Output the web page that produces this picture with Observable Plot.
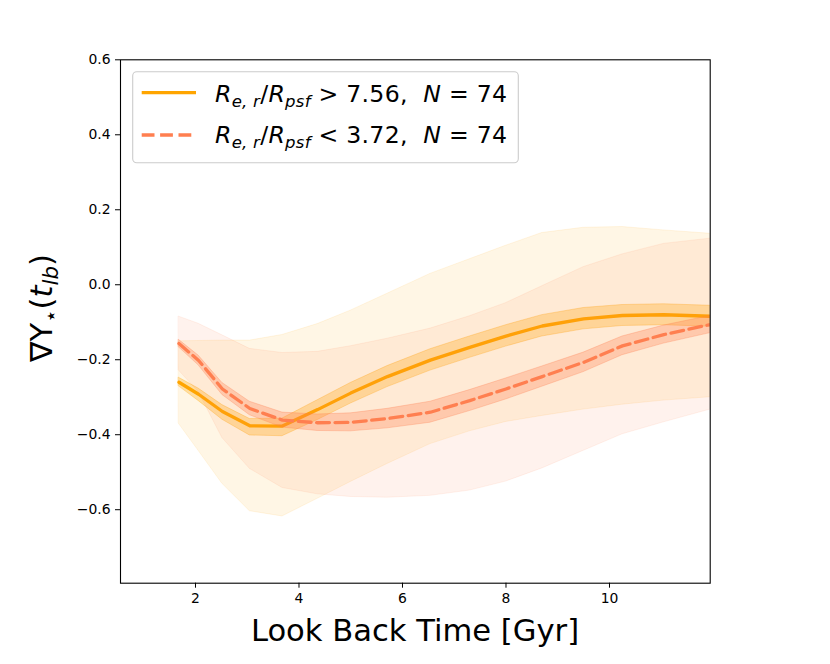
<!DOCTYPE html>
<html>
<head>
<meta charset="utf-8">
<script src="https://cdn.jsdelivr.net/npm/d3@7"></script>
<script src="https://cdn.jsdelivr.net/npm/@observablehq/plot@0.6"></script>
<style>
  html, body { margin: 0; padding: 0; background: white; }
  #chart { width: 830px; height: 664px; }
</style>
</head>
<body>
<div id="chart"></div>
<script>
// Look back time grid [Gyr]
const lookback = [1.68, 2.06, 2.52, 3.05, 3.68, 4.36, 5.0, 5.71, 6.54, 7.3, 8.0, 8.7, 9.5, 10.25, 11.05, 11.95];

// Large galaxies: R_e,r/R_psf > 7.56 (orange, solid)
const largeMed     = [-0.260, -0.292, -0.338, -0.376, -0.377, -0.333, -0.289, -0.245, -0.201, -0.167, -0.137, -0.110, -0.091, -0.082, -0.080, -0.084];
const largeInnerHi = [-0.248, -0.277, -0.321, -0.358, -0.357, -0.308, -0.262, -0.217, -0.172, -0.138, -0.108, -0.081, -0.062, -0.054, -0.052, -0.056];
const largeInnerLo = [-0.271, -0.310, -0.360, -0.402, -0.404, -0.361, -0.317, -0.273, -0.229, -0.195, -0.165, -0.138, -0.119, -0.110, -0.108, -0.112];
const largeOuterHi = [-0.151, -0.150, -0.149, -0.149, -0.134, -0.105, -0.069, -0.024, 0.029, 0.068, 0.104, 0.138, 0.152, 0.154, 0.145, 0.136];
const largeOuterLo = [-0.371, -0.443, -0.531, -0.604, -0.618, -0.571, -0.526, -0.478, -0.425, -0.391, -0.366, -0.350, -0.333, -0.320, -0.309, -0.300];

// Small galaxies: R_e,r/R_psf < 3.72 (coral, dashed)
const smallMed     = [-0.157, -0.202, -0.278, -0.330, -0.361, -0.368, -0.367, -0.357, -0.340, -0.309, -0.278, -0.245, -0.207, -0.163, -0.133, -0.106];
const smallInnerHi = [-0.147, -0.189, -0.262, -0.312, -0.341, -0.346, -0.343, -0.331, -0.312, -0.281, -0.250, -0.218, -0.181, -0.138, -0.109, -0.083];
const smallInnerLo = [-0.167, -0.215, -0.294, -0.348, -0.381, -0.390, -0.391, -0.383, -0.368, -0.337, -0.306, -0.272, -0.233, -0.188, -0.157, -0.129];
const smallOuterHi = [-0.085, -0.104, -0.135, -0.171, -0.182, -0.179, -0.164, -0.144, -0.117, -0.084, -0.049, -0.004, 0.047, 0.081, 0.109, 0.123];
const smallOuterLo = [-0.229, -0.286, -0.409, -0.491, -0.542, -0.559, -0.566, -0.568, -0.563, -0.549, -0.525, -0.490, -0.443, -0.399, -0.367, -0.333];

const xTicks = [2, 4, 6, 8, 10];
const yTicks = [-0.6, -0.4, -0.2, 0.0, 0.2, 0.4, 0.6];

const legendLabels = [
  {sym: ">", val: "7.56", n: "74"},
  {sym: "<", val: "3.72", n: "74"}
];

const large = lookback.map((t, i) => ({t, med: largeMed[i], ilo: largeInnerLo[i], ihi: largeInnerHi[i], olo: largeOuterLo[i], ohi: largeOuterHi[i]}));
const small = lookback.map((t, i) => ({t, med: smallMed[i], ilo: smallInnerLo[i], ihi: smallInnerHi[i], olo: smallOuterLo[i], ohi: smallOuterHi[i]}));

const ORANGE = "#FFA500";
const CORAL = "#FF7F50";

function band(data, lo, hi, color, op) {
  return Plot.areaY(data, {x: "t", y1: lo, y2: hi, fill: color, fillOpacity: op, stroke: color, strokeOpacity: op, strokeWidth: 1, clip: true});
}

const fmt = d => (d < 0 ? "\u2212" : "") + Math.abs(d).toFixed(1);

const plot = Plot.plot({
  width: 830,
  height: 664,
  marginLeft: 120,
  marginRight: 120.3,
  marginTop: 59.3,
  marginBottom: 81.3,
  style: {fontFamily: "DejaVu Sans", fontSize: "13.9px", color: "black", background: "white"},
  x: {domain: [0.551, 11.946]},
  y: {domain: [-0.796, 0.6]},
  marks: [
    band(large, "olo", "ohi", ORANGE, 0.1),
    band(large, "ilo", "ihi", ORANGE, 0.3),
    Plot.line(large, {x: "t", y: "med", stroke: ORANGE, strokeWidth: 3.3, clip: true}),
    band(small, "olo", "ohi", CORAL, 0.1),
    band(small, "ilo", "ihi", CORAL, 0.3),
    Plot.line(small, {x: "t", y: "med", stroke: CORAL, strokeWidth: 3.3, strokeDasharray: "12.8,5.6", clip: true}),
    Plot.frame({stroke: "black", strokeWidth: 1.1}),
    Plot.axisX({ticks: xTicks, tickSize: 5, tickPadding: 5, label: null, tickFormat: d => String(d)}),
    Plot.axisY({ticks: yTicks, tickSize: 5, tickPadding: 5, label: null, tickFormat: fmt})
  ]
});

document.getElementById("chart").appendChild(plot);

const svg = d3.select(plot);

// X label
svg.append("text")
  .attr("x", 415).attr("y", 641)
  .attr("text-anchor", "middle")
  .attr("font-family", "DejaVu Sans")
  .attr("font-size", 30.6)
  .attr("fill", "black")
  .text("Look Back Time [Gyr]");

// Y label: ∇Y⋆(t_lb)
const yl = svg.append("text")
  .attr("transform", "translate(52,308) rotate(-90)")
  .attr("text-anchor", "middle")
  .attr("font-family", "DejaVu Sans")
  .attr("font-size", 30.6)
  .attr("fill", "black");
yl.append("tspan").text("\u2207Y");
yl.append("tspan").attr("font-size", 21.4).attr("dy", 6).text("\u22C6");
yl.append("tspan").attr("dy", -6).text("(");
yl.append("tspan").attr("font-style", "italic").text("t");
yl.append("tspan").attr("font-style", "italic").attr("font-size", 21.4).attr("dy", 6).text("lb");
yl.append("tspan").attr("dy", -6).text(")");

// Legend
const lg = svg.append("g");
lg.append("rect")
  .attr("x", 132.7).attr("y", 71.7).attr("width", 385.6).attr("height", 91)
  .attr("rx", 4).attr("fill", "white").attr("fill-opacity", 0.8)
  .attr("stroke", "#cccccc").attr("stroke-width", 1.1);
lg.append("line").attr("x1", 141.7).attr("x2", 196).attr("y1", 92.7).attr("y2", 92.7)
  .attr("stroke", ORANGE).attr("stroke-width", 3.3);
lg.append("line").attr("x1", 141.7).attr("x2", 196).attr("y1", 135).attr("y2", 135)
  .attr("stroke", CORAL).attr("stroke-width", 3.3).attr("stroke-dasharray", "12.8,5.6");

legendLabels.forEach((d, i) => {
  const t = lg.append("text")
    .attr("x", 215).attr("y", i === 0 ? 101.7 : 143.3)
    .attr("text-anchor", "start")
    .attr("font-family", "DejaVu Sans")
    .attr("font-size", 23.6)
    .attr("fill", "black")
    .attr("textLength", 292)
    .attr("lengthAdjust", "spacing")
    .style("white-space", "pre");
  t.append("tspan").attr("font-style", "italic").text("R");
  t.append("tspan").attr("font-style", "italic").attr("font-size", 16.5).attr("dy", 5).text("e, r");
  t.append("tspan").attr("dy", -5).text("/");
  t.append("tspan").attr("font-style", "italic").text("R");
  t.append("tspan").attr("font-style", "italic").attr("font-size", 16.5).attr("dy", 5).text("psf");
  t.append("tspan").attr("dy", -5).text(" " + d.sym + " " + d.val + ",  ");
  t.append("tspan").attr("font-style", "italic").text("N");
  t.append("tspan").text(" = " + d.n);
});
</script>
</body>
</html>
